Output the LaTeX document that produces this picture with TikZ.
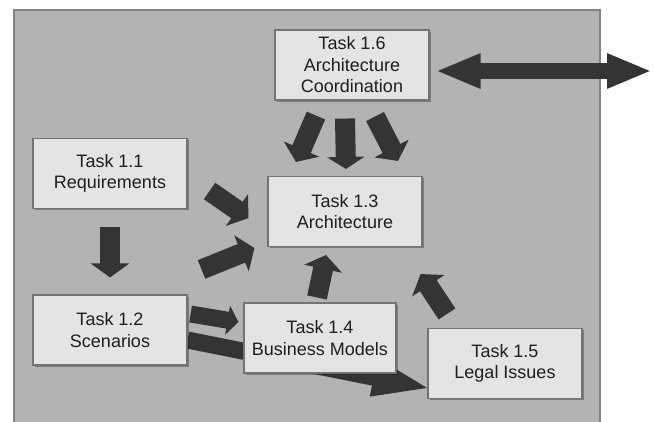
\documentclass[tikz,border=0pt]{standalone}
\usepackage{fontspec}
\setmainfont{Liberation Sans}
\usetikzlibrary{arrows.meta,calc,shadows}
\definecolor{panel}{RGB}{179,179,179}
\definecolor{panelrule}{RGB}{130,130,130}
\definecolor{boxfill}{RGB}{228,228,228}
\definecolor{boxrule}{RGB}{115,115,115}
\definecolor{arrowc}{RGB}{52,52,52}
\definecolor{inkc}{RGB}{30,30,30}
\pgfdeclarelayer{back}
\pgfdeclarelayer{flow}
\pgfsetlayers{back,flow,main}
\tikzset{
  taskbox/.style={draw=boxrule, line width=1.1pt, fill=boxfill,
    minimum width=154pt, minimum height=70pt, inner sep=0pt,
    align=center, text=inkc,
    font=\fontsize{18}{21.5}\selectfont,
    drop shadow={shadow xshift=1.5pt, shadow yshift=-1.5pt, fill=black, opacity=0.3}},
  fat/.style={line width=20pt, draw=arrowc,
    -{Triangle[length=14pt, width=38pt]}},
  slim/.style={line width=17pt, draw=arrowc,
    -{Triangle[length=11pt, width=29pt]}},
  longhead/.style={line width=17pt, draw=arrowc,
    -{Triangle[length=60pt, width=34pt]}},
  twoway/.style={line width=16pt, draw=arrowc,
    {Triangle[length=45pt, width=32pt]}-{Triangle[length=45pt, width=32pt]}}
}
\begin{document}
\begin{tikzpicture}[x=1pt, y=-1pt]
\useasboundingbox (0,0) rectangle (654,421);

% task boxes
\node[taskbox] (n16) at (352,65)    {Task 1.6\\Architecture\\Coordination};
\node[taskbox] (n11) at (110,173.5) {Task 1.1\\Requirements};
\node[taskbox] (n13) at (345,211.5) {Task 1.3\\Architecture};
\node[taskbox] (n12) at (110,330)   {Task 1.2\\Scenarios};
\node[taskbox, minimum width=152pt] (n14) at (320,338) {Task 1.4\\Business Models};
\node[taskbox] (n15) at (505,363.5) {Task 1.5\\Legal Issues};

% outward link of the coordination task
\coordinate (outside) at (652,71);

\begin{pgfonlayer}{back}
  \fill[panel, draw=panelrule, line width=1.5pt] (14,10) rectangle (600,430);
\end{pgfonlayer}

\begin{pgfonlayer}{flow}
  % requirements down to scenarios
  \draw[fat] ($(n11.south)+(0,18)$) -- ($(n12.north)+(0,-17)$);
  % coordination fans into architecture
  \draw[fat] ($(n16.south)+(-36,15)$) -- ($(n13.north)+(-49,-14)$);
  \draw[fat, -{Triangle[length=12pt, width=37pt]}]
        ($(n16.south)+(-7,18)$)  -- ($(n13.north)+(1,-7)$);
  \draw[fat] ($(n16.south)+(23,16)$)  -- ($(n13.north)+(53,-15)$);
  % inputs into architecture
  \draw[fat] ($(n11.east)+(22,17.5)$) -- ($(n13.west)+(-19,6.5)$);
  \draw[fat] ($(n12.north east)+(14,-25)$) -- ($(n13.south west)+(-13,1)$);
  \draw[fat] ($(n14.north)+(-3,-5)$) -- ($(n13.south)+(-19,8)$);
  \draw[fat] ($(n15.north)+(-58,-14)$) -- ($(n13.south east)+(-2,27)$);
  % scenarios feed business models and legal issues
  \draw[slim] ($(n12.east)+(3,-16)$) -- ($(n14.west)+(-5,-16)$);
  \draw[longhead] ($(n12.east)+(0,10)$) -- ($(n15.west)+(5,25.5)$);
  % coordination with the outside
  \draw[twoway] ($(n16.east)+(6,6)$) -- (outside);
\end{pgfonlayer}
\end{tikzpicture}
\end{document}
